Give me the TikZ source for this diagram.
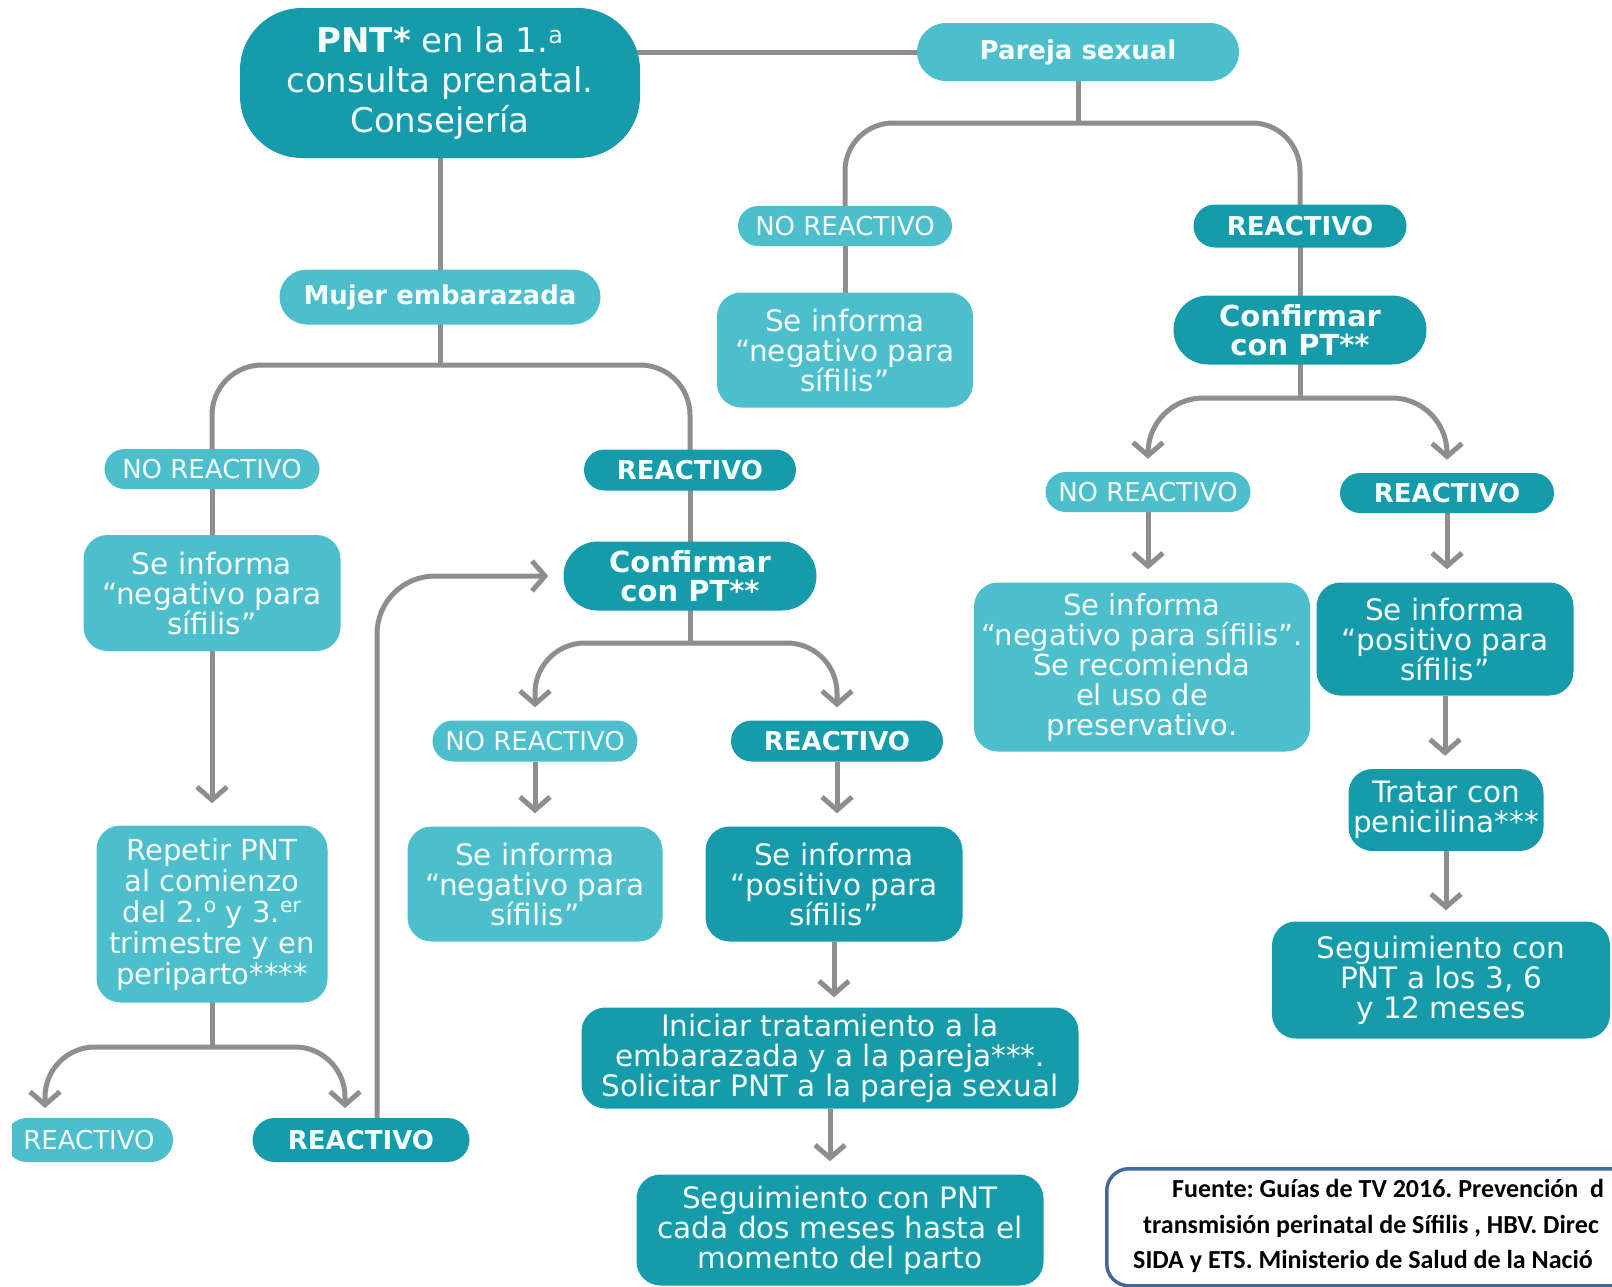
\documentclass[tikz,border=0pt]{standalone}
\usepackage{fontspec}
\setmainfont{DejaVu Sans}
\newfontfamily\notefont{Carlito}
\usetikzlibrary{arrows.meta,shapes.misc,calc}
\pgfdeclarelayer{paper}
\pgfdeclarelayer{wires}
\pgfsetlayers{paper,wires,main}

\definecolor{lteal}{HTML}{4DBECC}
\definecolor{dteal}{HTML}{169BAA}
\definecolor{ink}{HTML}{F4FCFD}
\definecolor{wirec}{HTML}{8E8E8E}
\definecolor{framec}{HTML}{41699B}

\begin{document}
\frenchspacing
\begin{tikzpicture}[x=1pt,y=-1pt,
  cell/.style={inner sep=0pt, align=center, text=ink},
  lightfill/.style={fill=lteal},
  darkfill/.style={fill=dteal},
  infobox/.style={cell, rounded corners=24pt, font=\fontsize{29.5}{30}\selectfont},
  tagbox/.style={cell, rounded rectangle, minimum height=40pt, font=\fontsize{26}{26}\selectfont},
  boldtag/.style={tagbox, font=\bfseries\fontsize{26}{26}\selectfont},
  confirm/.style={cell, rounded rectangle, font=\bfseries\fontsize{29}{29}\selectfont,
                  minimum width=253pt, minimum height=69pt},
  link/.style={draw=wirec, line width=5pt},
  tipline/.style={link, -{Straight Barb[length=13pt,width=30pt]}},
  arrowline/.style={tipline, shorten >=13pt},
  notetext/.style={anchor=base west, inner sep=0pt, font=\notefont\bfseries\fontsize{26}{35}\selectfont},
]
\useasboundingbox (0,0) rectangle (1612,1286);
\begin{pgfonlayer}{paper}
  \fill[white] (0,0) rectangle (1612,1286);
\end{pgfonlayer}

% ---- first visit and partner
\node[cell, darkfill, rounded corners=62pt, minimum width=400pt, minimum height=150pt,
      font=\fontsize{34}{40}\selectfont] (top) at (440,83)
      {\textbf{PNT*} en la 1.\textsuperscript{a}\\consulta prenatal.\\Consejería};
\node[boldtag, lightfill, minimum width=322pt, minimum height=58pt] (pareja) at (1078,52) {Pareja sexual};

% ---- partner branch
\node[tagbox, lightfill, minimum width=214pt] (nr1) at (845,226) {NO REACTIVO};
\node[infobox, lightfill, minimum width=256pt, minimum height=115pt] (neg1) at (845,350)
      {Se informa\\“negativo para\\sífilis”};
\node[boldtag, darkfill, minimum width=213pt, minimum height=43pt] (r1) at (1300,226) {REACTIVO};
\node[confirm, darkfill] (conf1) at (1300,330) {Confirmar\\con PT**};
\node[tagbox, lightfill, minimum width=205pt] (nr2) at (1148,492) {NO REACTIVO};
\node[boldtag, darkfill, minimum width=214pt] (rr2) at (1447,493) {REACTIVO};
\node[infobox, lightfill, minimum width=336pt, minimum height=169pt,
      font=\fontsize{29}{30}\selectfont] (neg2) at (1142,667)
      {Se informa\\“negativo para sífilis”.\\Se recomienda\\el uso de\\preservativo.};
\node[infobox, darkfill, minimum width=257pt, minimum height=113pt] (pos2) at (1445,639)
      {Se informa\\“positivo para\\sífilis”};
\node[infobox, darkfill, minimum width=195pt, minimum height=82pt] (treat) at (1446,810)
      {Tratar con\\penicilina***};
\node[infobox, darkfill, minimum width=338pt, minimum height=117pt] (seg2) at (1441,980)
      {Seguimiento con\\PNT a los 3, 6\\y 12 meses};

% ---- pregnant woman branch
\node[boldtag, lightfill, minimum width=321pt, minimum height=55pt] (mujer) at (440,297) {Mujer embarazada};
\node[tagbox, lightfill, minimum width=215pt] (nr3) at (212,469) {NO REACTIVO};
\node[infobox, lightfill, minimum width=257pt, minimum height=116pt] (neg3) at (212,593)
      {Se informa\\“negativo para\\sífilis”};
\node[infobox, lightfill, minimum width=231pt, minimum height=177pt,
      font=\fontsize{29}{31}\selectfont] (rep) at (212,914)
      {Repetir PNT\\al comienzo\\del 2.\textsuperscript{o} y 3.\textsuperscript{er}\\trimestre y en\\periparto****};
\begin{scope}
  \clip (12,1100) rectangle (300,1180);
  \node[tagbox, lightfill, minimum width=168pt, minimum height=44pt] (rl) at (89,1140) {REACTIVO};
\end{scope}
\node[boldtag, darkfill, minimum width=217pt, minimum height=44pt] (rd) at (361,1140) {REACTIVO};

\node[boldtag, darkfill, minimum width=212pt, minimum height=41pt] (r3) at (690,470) {REACTIVO};
\node[confirm, darkfill] (conf3) at (690,576) {Confirmar\\con PT**};
\node[tagbox, lightfill, minimum width=205pt, minimum height=41pt] (nr4) at (535,741) {NO REACTIVO};
\node[boldtag, darkfill, minimum width=212pt, minimum height=41pt] (r4) at (837,741) {REACTIVO};
\node[infobox, lightfill, minimum width=255pt, minimum height=115pt] (neg4) at (535,884)
      {Se informa\\“negativo para\\sífilis”};
\node[infobox, darkfill, minimum width=257pt, minimum height=115pt] (pos4) at (834,884)
      {Se informa\\“positivo para\\sífilis”};
\node[infobox, darkfill, minimum width=497pt, minimum height=101pt] (init) at (830,1058)
      {Iniciar tratamiento a la\\embarazada y a la pareja***.\\Solicitar PNT a la pareja sexual};
\node[infobox, darkfill, minimum width=407pt, minimum height=111pt] (seg4) at (840,1230)
      {Seguimiento con PNT\\cada dos meses hasta el\\momento del parto};

% ---- source note (runs off the right edge)
\node[draw=framec, line width=3.5pt, rounded corners=22pt, fill=white, anchor=north west,
      minimum width=575pt, minimum height=117pt] (fuente) at (1105,1167) {};
\node[notetext] (f1) at (1172,1197) {Fuente: Guías de TV 2016. Prevención\ \ d};
\node[notetext] (f2) at (1143,1233) {transmisión perinatal de Sífilis , HBV. Direc};
\node[notetext] (f3) at (1133,1268) {SIDA y ETS. Ministerio de Salud de la Nació};

% ---- connectors
\begin{pgfonlayer}{wires}
  \draw[link] (top.center |- pareja.center) -- (pareja.center);
  \coordinate (j1) at (1078,123);
  \draw[link] (pareja.center) -- (j1);
  \draw[link, rounded corners=48pt] (nr1.center) |- (j1) -| (r1.center);
  \draw[link] (nr1.center) -- (neg1.center);
  \draw[link] (r1.center) -- (conf1.center);
  \coordinate (j2) at (1300,398);
  \draw[link] (conf1.center) -- (j2);
  \draw[arrowline, rounded corners=55pt] (j2) -| (nr2.north);
  \draw[arrowline, rounded corners=55pt] (j2) -| (rr2.north);
  \draw[arrowline] (nr2.south) -- (nr2.south |- neg2.north);
  \draw[arrowline] (rr2.south) -- (rr2.south |- pos2.north);
  \draw[arrowline] (pos2.south) -- (pos2.south |- treat.north);
  \draw[arrowline, shorten >=11pt] (treat.south) -- (treat.south |- seg2.north);

  \draw[link] (top.center) -- (mujer.center);
  \coordinate (j3) at (440,365);
  \draw[link] (mujer.center) -- (j3);
  \draw[link, rounded corners=50pt] (nr3.center) |- (j3) -| (r3.center);
  \draw[link] (nr3.center) -- (neg3.center);
  \draw[arrowline, shorten >=22pt] (neg3.south) -- (neg3.south |- rep.north);
  \coordinate (j4) at (212,1047);
  \draw[link] (rep.center) -- (j4);
  \coordinate (t4l) at (45,1108);
  \coordinate (t4r) at (345,1108);
  \draw[tipline, rounded corners=50pt] (j4) -| (t4l);
  \draw[tipline, rounded corners=50pt] (j4) -| (t4r);
  \draw[arrowline, shorten >=15pt, rounded corners=58pt] ($(rd.north)+(16,0)$) |- (conf3.west);

  \draw[link] (r3.center) -- (conf3.center);
  \coordinate (j5) at (690,643);
  \draw[link] (conf3.center) -- (j5);
  \draw[arrowline, rounded corners=50pt] (j5) -| (nr4.north);
  \draw[arrowline, rounded corners=50pt] (j5) -| (r4.north);
  \draw[arrowline] (nr4.south) -- (nr4.south |- neg4.north);
  \draw[arrowline] (r4.south) -- (r4.south |- pos4.north);
  \draw[arrowline, shorten >=10pt] (pos4.south) -- (pos4.south |- init.north);
  \draw[arrowline] (init.south) -- (init.south |- seg4.north);
\end{pgfonlayer}
\end{tikzpicture}
\end{document}
